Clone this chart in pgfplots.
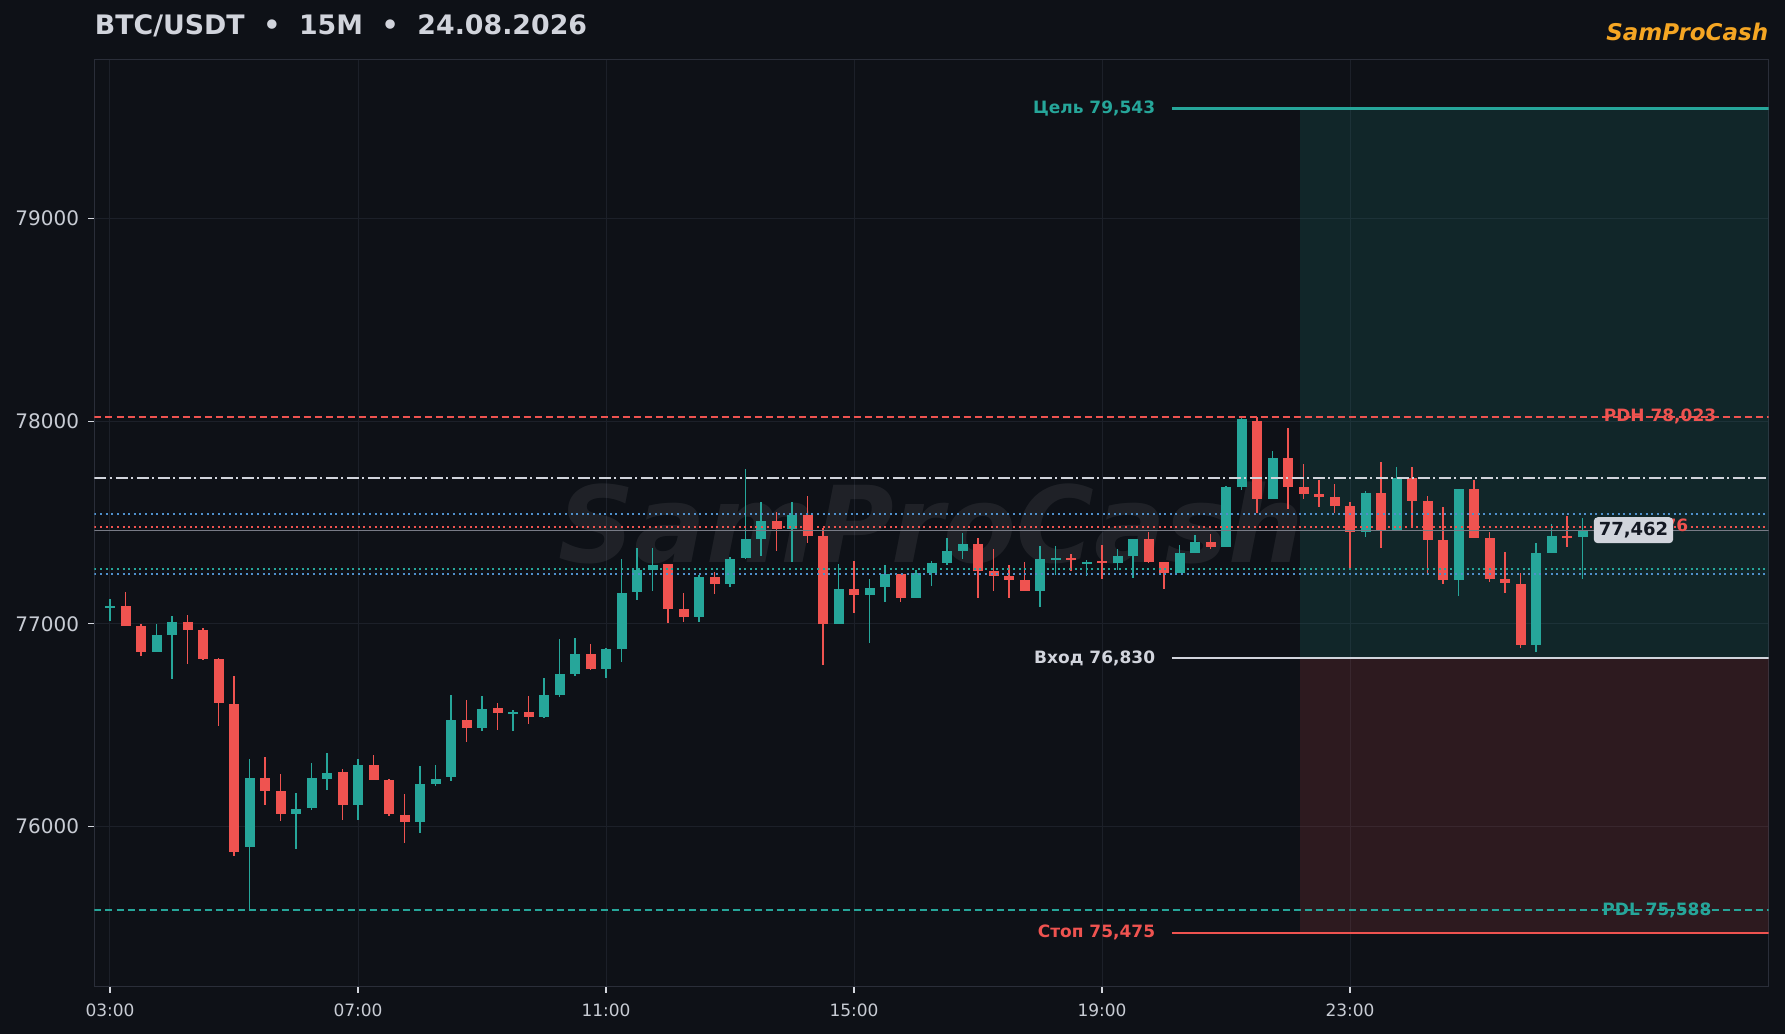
\documentclass[border=0pt]{standalone}
\usepackage{fontspec}
\setmainfont{DejaVu Sans}
\usepackage{pgfplots}
\pgfplotsset{compat=1.18}
\usepackage{pgfplotstable}
\usetikzlibrary{backgrounds}
\definecolor{bgc}{HTML}{0E1117}
\definecolor{gridc}{HTML}{1C2029}
\definecolor{spinec}{HTML}{2A2E39}
\definecolor{upc}{HTML}{26A69A}
\definecolor{dnc}{HTML}{EF5350}
\definecolor{txtc}{HTML}{C8CCD4}
\definecolor{titlec}{HTML}{D1D4DC}
\definecolor{orangec}{HTML}{F5A623}
\definecolor{dotblue}{HTML}{4F90CC}
\definecolor{lastc}{HTML}{787B86}
\definecolor{boxtxt}{HTML}{131722}

\pgfplotstableread{
i o h l c
0 77080 77123 77014 77086
3 76863 76999 76863 76945
4 76945 77039 76731 77007
9 75897 76333 75588 76238
12 76062 76165 75889 76089
13 76089 76315 76081 76238
14 76238 76363 76180 76267
16 76106 76333 76032 76303
20 76024 76298 75969 76210
21 76210 76303 76201 76237
22 76246 76649 76226 76525
24 76489 76644 76473 76583
26 76555 76578 76473 76563
28 76542 76731 76538 76649
29 76649 76925 76640 76755
30 76755 76928 76744 76851
32 76775 76880 76736 76876
33 76876 77318 76813 77155
34 77155 77376 77117 77265
35 77265 77376 77163 77293
38 77035 77244 77010 77233
40 77196 77331 77183 77323
41 77323 77767 77323 77418
42 77418 77603 77336 77507
44 77466 77603 77307 77537
47 77000 77295 76999 77172
49 77142 77221 76907 77179
50 77179 77289 77110 77246
52 77126 77266 77126 77249
53 77249 77310 77187 77302
54 77302 77422 77291 77360
55 77360 77447 77320 77394
60 77164 77384 77085 77320
61 77318 77384 77241 77324
63 77300 77315 77236 77305
65 77299 77369 77269 77335
66 77335 77419 77228 77419
69 77253 77389 77250 77348
70 77348 77439 77348 77404
72 77381 77681 77381 77674
73 77674 78023 77661 78010
75 77616 77853 77616 77817
81 77455 77658 77431 77648
83 77463 77776 77460 77722
87 77217 77666 77139 77666
92 76896 77398 76860 77348
93 77348 77491 77348 77431
95 77428 77521 77222 77462
}\upT

\pgfplotstableread{
i o h l c
1 77088 77157 76990 76991
2 76989 77002 76843 76863
5 77007 77044 76803 76970
6 76970 76978 76820 76826
7 76826 76830 76497 76611
8 76608 76743 75856 75876
10 76238 76343 76106 76177
11 76177 76259 76029 76062
15 76267 76282 76032 76106
17 76303 76353 76229 76229
18 76229 76234 76052 76060
19 76060 76159 75917 76024
23 76525 76624 76418 76489
25 76583 76608 76476 76558
27 76563 76647 76505 76542
31 76851 76900 76772 76775
36 77295 77298 77006 77073
37 77073 77150 77010 77035
39 77233 77254 77147 77196
43 77507 77553 77361 77466
45 77537 77631 77400 77433
46 77433 77475 76797 77000
48 77172 77310 77055 77142
51 77246 77246 77110 77126
56 77394 77422 77129 77263
57 77263 77369 77164 77236
58 77236 77291 77129 77217
59 77217 77307 77164 77164
62 77327 77345 77263 77315
64 77310 77389 77221 77299
67 77419 77452 77302 77307
68 77307 77307 77172 77253
71 77404 77444 77368 77381
74 78003 78019 77546 77616
76 77817 77965 77565 77677
77 77677 77792 77615 77641
78 77640 77710 77579 77628
79 77628 77689 77546 77584
80 77582 77603 77274 77455
82 77644 77801 77373 77463
84 77722 77776 77483 77608
85 77608 77631 77253 77414
86 77414 77579 77195 77217
88 77666 77710 77426 77426
89 77426 77452 77208 77220
90 77220 77357 77154 77200
91 77197 77250 76879 76893
94 77434 77533 77381 77428
}\dnT

\begin{document}
\begin{tikzpicture}[background rectangle/.style={fill=bgc}, show background rectangle, inner frame sep=0pt]
\begin{axis}[
  scale only axis, width=837pt, height=463.7pt,
  xmin=-1, xmax=107, ymin=75209, ymax=79786,
  axis line style={draw=spinec, line width=0.75pt},
  grid=major, major grid style={draw=gridc, line width=0.5pt},
  xtick={0,16,32,48,64,80},
  xticklabels={03:00,07:00,11:00,15:00,19:00,23:00},
  ytick={76000,77000,78000,79000},
  xtick pos=bottom, ytick pos=left,
  tick align=outside, major tick length=3pt,
  major tick style={draw=txtc!80, line width=0.6pt},
  /pgf/number format/assume math mode=true,
  /pgf/number format/.cd, fixed, 1000 sep={}, /pgfplots/.cd,
  scaled y ticks=false,
  yticklabel style={font=\fontsize{10}{12}\selectfont, text=txtc, anchor=east, inner sep=0pt, xshift=-4.5pt},
  xticklabel style={font=\fontsize{8.5}{10}\selectfont, text=txtc, anchor=north, inner sep=0pt, yshift=-5.5pt},
  candle/.style={draw=none, mark=none, forget plot, error bars/.cd, y dir=both, y explicit, error mark=none},
]
% watermark
\node[font=\fontsize{53}{60}\selectfont\bfseries\itshape, text=white, text opacity=0.07] at (rel axis cs:0.5,0.5) {SamProCash};
% regions
\addplot[draw=none, fill=upc, fill opacity=0.14, forget plot] coordinates {(76.75,76830) (107,76830) (107,79543) (76.75,79543)} -- cycle;
\addplot[draw=none, fill=dnc, fill opacity=0.14, forget plot] coordinates {(76.75,75475) (107,75475) (107,76830) (76.75,76830)} -- cycle;
% candles: wicks
\addplot[candle, error bar style={line width=0.8pt, draw=upc}]
  table[x=i, y expr={(\thisrow{h}+\thisrow{l})/2}, y error expr={(\thisrow{h}-\thisrow{l})/2}] {\upT};
\addplot[candle, error bar style={line width=0.8pt, draw=dnc}]
  table[x=i, y expr={(\thisrow{h}+\thisrow{l})/2}, y error expr={(\thisrow{h}-\thisrow{l})/2}] {\dnT};
% bodies
\addplot[candle, error bar style={line width=5pt, draw=upc}]
  table[x=i, y expr={(\thisrow{o}+\thisrow{c})/2}, y error expr={max(abs(\thisrow{o}-\thisrow{c})/2,5)}] {\upT};
\addplot[candle, error bar style={line width=5pt, draw=dnc}]
  table[x=i, y expr={(\thisrow{o}+\thisrow{c})/2}, y error expr={max(abs(\thisrow{o}-\thisrow{c})/2,5)}] {\dnT};
% horizontal levels
\addplot[draw=dnc, line width=1pt, dash pattern=on 3.5pt off 2pt, forget plot] coordinates {(-1,78023) (107,78023)};
\addplot[draw=upc, line width=1pt, dash pattern=on 3.5pt off 2pt, forget plot] coordinates {(-1,75588) (107,75588)};
\addplot[draw=titlec, line width=1pt, dash pattern=on 6pt off 1.75pt on 1pt off 1.75pt, forget plot] coordinates {(-1,77721) (107,77721)};
\addplot[draw=dotblue, line width=1pt, dash pattern=on 1pt off 1.8pt, forget plot] coordinates {(-1,77544) (107,77544)};
\addplot[draw=dnc, line width=1pt, dash pattern=on 1pt off 1.8pt, forget plot] coordinates {(-1,77480) (107,77480)};
\addplot[draw=lastc, line width=0.6pt, forget plot] coordinates {(-1,77462) (107,77462)};
\addplot[draw=upc, line width=1pt, dash pattern=on 1pt off 1.8pt, forget plot] coordinates {(-1,77272) (107,77272)};
\addplot[draw=dotblue, line width=1pt, dash pattern=on 1pt off 1.8pt, forget plot] coordinates {(-1,77248) (107,77248)};
% trade levels
\addplot[draw=upc, line width=1.1pt, forget plot] coordinates {(68.5,79543) (107,79543)};
\addplot[draw=titlec, line width=1.1pt, forget plot] coordinates {(68.5,76830) (107,76830)};
\addplot[draw=dnc, line width=1.1pt, forget plot] coordinates {(68.5,75475) (107,75475)};
\node[anchor=east, inner sep=0pt, font=\fontsize{8.5}{10}\selectfont\bfseries, text=upc] at (axis cs:67.45,79543) {Цель 79,543};
\node[anchor=east, inner sep=0pt, font=\fontsize{8.5}{10}\selectfont\bfseries, text=titlec] at (axis cs:67.45,76830) {Вход 76,830};
\node[anchor=east, inner sep=0pt, font=\fontsize{8.5}{10}\selectfont\bfseries, text=dnc] at (axis cs:67.45,75475) {Стоп 75,475};
\node[inner sep=0pt, font=\fontsize{8.5}{10}\selectfont\bfseries, text=dnc] at (axis cs:100,78023) {PDH 78,023};
\node[inner sep=0pt, font=\fontsize{8.5}{10}\selectfont\bfseries, text=upc] at (axis cs:99.8,75588) {PDL 75,588};
\node[anchor=east, inner sep=0pt, font=\fontsize{8.5}{10}\selectfont\bfseries, text=dnc] at (axis cs:101.85,77480) {77,476};
\node[anchor=west, fill=titlec, rounded corners=2pt, inner xsep=2.5pt, inner ysep=0pt, minimum height=13pt, font=\fontsize{9}{10}\selectfont\bfseries, text=boxtxt] at (axis cs:95.7,77462) {77,462};
\end{axis}
\node[anchor=base west, inner sep=0pt, font=\fontsize{13.4}{16}\selectfont\bfseries, text=titlec] at ([yshift=12.15pt]current axis.north west) {BTC/USDT \ • \ 15M \ • \ 24.08.2026};
\node[anchor=base east, inner sep=0pt, font=\fontsize{11.5}{13}\selectfont\bfseries\itshape, text=orangec] at ([yshift=9.15pt]current axis.north east) {SamProCash};
\pgfresetboundingbox
\path ([xshift=-47.25pt,yshift=-23.65pt]current axis.south west) rectangle ([xshift=8.25pt,yshift=29.65pt]current axis.north east);
\end{tikzpicture}
\end{document}
